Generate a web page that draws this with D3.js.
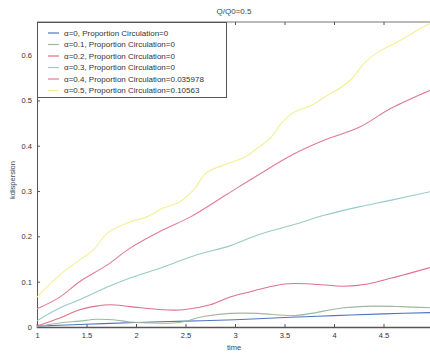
<!DOCTYPE html>
<html>
<head>
<meta charset="utf-8">
<script src="https://cdn.jsdelivr.net/npm/d3@7"></script>
<style>
  body { margin: 0; background: #fff; }
  svg { font-family: "Liberation Sans", Arial, sans-serif; }
  .tick text { fill: #333; font-size: 7.5px; }
  .tick line { stroke: #555; }
  .domain { stroke: #555; }
</style>
</head>
<body>
<svg id="chart"></svg>
<script>
// series values (time, kdispersion)
let alpha0 = [[1,0.002],[1.5,0.006],[2,0.01],[2.5,0.013],[3,0.016],[3.5,0.021],[4,0.025],[4.5,0.029],[5,0.032]];
let alpha01 = [[1,0.001],[1.23,0.009],[1.43,0.013],[1.6,0.017],[1.77,0.016],[1.94,0.011],[2.11,0.009],[2.44,0.01],[2.68,0.023],[2.95,0.03],[3.23,0.03],[3.58,0.025],[3.77,0.03],[4.08,0.042],[4.41,0.046],[4.68,0.045],[5,0.042]];
let alpha02 = [[1,0.002],[1.23,0.02],[1.43,0.038],[1.6,0.046],[1.74,0.049],[1.94,0.045],[2.27,0.038],[2.48,0.038],[2.75,0.049],[2.95,0.066],[3.23,0.082],[3.5,0.095],[3.77,0.095],[4.1,0.09],[4.34,0.095],[4.58,0.108],[5,0.133]];
let alpha03 = [[1,0.014],[1.23,0.042],[1.43,0.06],[1.71,0.088],[1.94,0.108],[2.27,0.132],[2.61,0.159],[2.95,0.179],[3.23,0.203],[3.58,0.225],[3.91,0.247],[4.25,0.265],[4.58,0.28],[5,0.3]];
let alpha04 = [[1,0.04],[1.23,0.066],[1.43,0.1],[1.71,0.137],[1.94,0.174],[2.27,0.214],[2.55,0.243],[2.92,0.293],[3.23,0.335],[3.58,0.38],[3.91,0.413],[4.25,0.44],[4.58,0.483],[5,0.525]];
let alpha05 = [[1,0.066],[1.23,0.115],[1.43,0.148],[1.57,0.17],[1.71,0.207],[1.94,0.232],[2.11,0.243],[2.27,0.262],[2.44,0.276],[2.58,0.302],[2.71,0.34],[2.92,0.36],[3.1,0.375],[3.23,0.395],[3.37,0.42],[3.47,0.45],[3.58,0.472],[3.78,0.49],[3.91,0.508],[4.08,0.53],[4.19,0.55],[4.31,0.583],[4.45,0.607],[4.65,0.63],[4.85,0.656],[5,0.673]];

let labels = [
  "α=0, Proportion Circulation=0",
  "α=0.1, Proportion Circulation=0",
  "α=0.2, Proportion Circulation=0",
  "α=0.3, Proportion Circulation=0",
  "α=0.4, Proportion Circulation=0.035978",
  "α=0.5, Proportion Circulation=0.10563"
];
let colors = ["#4f74c4", "#9fb89f", "#e0708c", "#98cac8", "#e27a94", "#f2f096"];
let xTicks = [1, 1.5, 2, 2.5, 3, 3.5, 4, 4.5];
let yTicks = [0, 0.1, 0.2, 0.3, 0.4, 0.5, 0.6];

let series = [alpha0, alpha01, alpha02, alpha03, alpha04, alpha05];

let width = 430;
let height = 354;
let margin = {left: 37, top: 22, right: -3, bottom: 27};

let svg = d3.select('#chart').attr('width', width).attr('height', height);

let xScale = d3.scaleLinear()
  .domain([1, 5])
  .range([margin.left, width - margin.right]);
let yScale = d3.scaleLinear()
  .domain([0, 0.673])
  .range([height - margin.bottom, margin.top]);

// box (top edge)
svg.append("line")
  .attr("x1", margin.left).attr("x2", width)
  .attr("y1", margin.top).attr("y2", margin.top)
  .attr("stroke", "#777").attr("stroke-width", 1);

// top ticks, pointing in
svg.append("g")
  .attr("transform", "translate(0," + margin.top + ")")
  .call(d3.axisTop(xScale).tickValues(xTicks).tickSize(-3).tickFormat(""))
  .call(g => g.select(".domain").remove());

// x axis
let xAxis = d3.axisBottom(xScale)
  .tickValues(xTicks)
  .tickSize(-3)
  .tickPadding(6)
  .tickFormat(d3.format("~g"));
svg.append("g")
  .attr("class", "axisX")
  .attr("transform", "translate(0," + (height - margin.bottom) + ")")
  .call(xAxis)
  .call(g => g.select(".domain").attr("stroke", "#333").attr("stroke-width", 1.6));

// y axis
let yAxis = d3.axisLeft(yScale)
  .tickValues(yTicks)
  .tickSize(-3)
  .tickPadding(5)
  .tickFormat(d3.format("~g"));
svg.append("g")
  .attr("class", "axisY")
  .attr("transform", "translate(" + margin.left + ",0)")
  .call(yAxis);

// lines
let line = d3.line()
  .x(function(d){ return xScale(d[0]); })
  .y(function(d){ return yScale(d[1]); })
  .curve(d3.curveCatmullRom);

svg.selectAll(".line")
  .data(series)
  .enter()
  .append("path")
  .attr("class", "line")
  .attr("d", line)
  .attr("fill", "none")
  .attr("stroke", function(d, i){ return colors[i]; })
  .attr("stroke-width", 1.1);

// legend
let legend = svg.append("g").attr("transform", "translate(37,22)");
legend.append("rect")
  .attr("x", 0.5).attr("y", 0.5)
  .attr("width", 189).attr("height", 75)
  .attr("fill", "#fff")
  .attr("stroke", "#555")
  .attr("stroke-width", 1);
labels.forEach(function(lab, i){
  let y = 11 + i * 11.5;
  legend.append("line")
    .attr("x1", 11).attr("x2", 22)
    .attr("y1", y).attr("y2", y)
    .attr("stroke", colors[i])
    .attr("stroke-width", 1.2);
  legend.append("text")
    .attr("x", 27).attr("y", y + 2.8)
    .attr("font-size", "8px")
    .attr("fill", "#333")
    .text(lab);
});

// title and axis labels
svg.append("text")
  .attr("x", 234).attr("y", 14)
  .attr("text-anchor", "middle")
  .attr("font-size", "8px")
  .attr("fill", "#444")
  .text("Q/Q0=0.5");
svg.append("text")
  .attr("x", 234).attr("y", 350)
  .attr("text-anchor", "middle")
  .attr("font-size", "7.5px")
  .attr("fill", "#444")
  .text("time");
svg.append("text")
  .attr("transform", "translate(15,180) rotate(-90)")
  .attr("text-anchor", "middle")
  .attr("font-size", "7.5px")
  .attr("fill", "#444")
  .text("kdispersion");
</script>
</body>
</html>
